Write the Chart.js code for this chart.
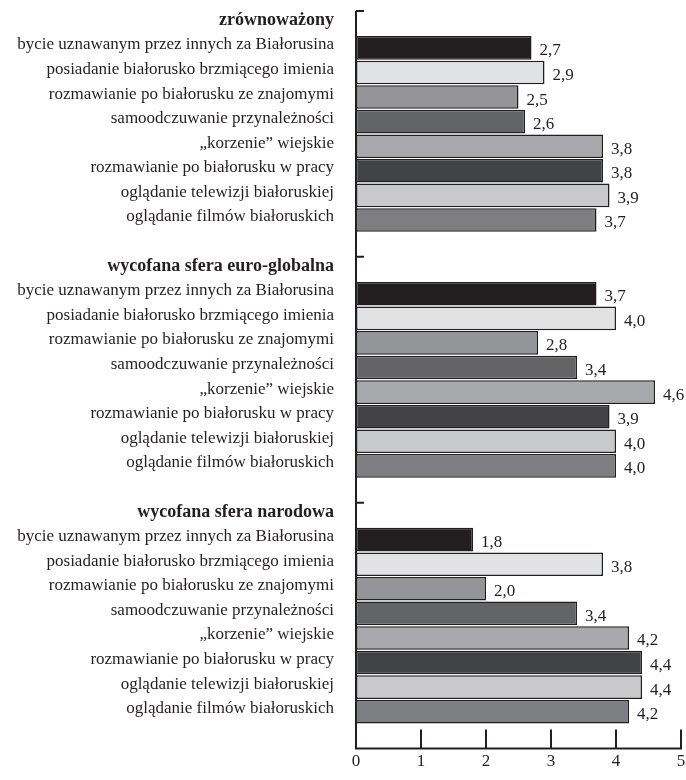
<!DOCTYPE html>
<html>
<head>
<meta charset="utf-8">
<script src="https://cdn.jsdelivr.net/npm/chart.js@4.4.1/dist/chart.umd.min.js"></script>
<style>
  html, body { margin: 0; padding: 0; background: #fff; }
  #wrap { width: 686px; height: 780px; position: relative; }
</style>
</head>
<body>
<div id="wrap"><canvas id="graphique"></canvas></div>
<script>
// grupy i kategorie
var groups = ['zrównoważony', 'wycofana sfera euro-globalna', 'wycofana sfera narodowa'];
var categories = [
  'bycie uznawanym przez innych za Białorusina',
  'posiadanie białorusko brzmiącego imienia',
  'rozmawianie po białorusku ze znajomymi',
  'samoodczuwanie przynależności',
  '„korzenie” wiejskie',
  'rozmawianie po białorusku w pracy',
  'oglądanie telewizji białoruskiej',
  'oglądanie filmów białoruskich'
];
var zrownowazony = [2.7, 2.9, 2.5, 2.6, 3.8, 3.8, 3.9, 3.7];
var euroGlobalna = [3.7, 4.0, 2.8, 3.4, 4.6, 3.9, 4.0, 4.0];
var narodowa     = [1.8, 3.8, 2.0, 3.4, 4.2, 4.4, 4.4, 4.2];
var xTicks = [0, 1, 2, 3, 4, 5];

var barColors = ['#231f20', '#e1e2e4', '#939598', '#636466', '#a7a9ac', '#414244', '#c8c9cb', '#7d7e81'];
var FONT = "'Liberation Serif', 'Times New Roman', serif";
var INK = '#231f20';

// wiersze: naglowek, 8 kategorii, pusty wiersz
var labels = [], values = [], colors = [], isHeader = [];
var series = [zrownowazony, euroGlobalna, narodowa];
for (var g = 0; g < groups.length; g++) {
  labels.push(groups[g]); values.push(null); colors.push('#fff'); isHeader.push(true);
  for (var i = 0; i < categories.length; i++) {
    labels.push(categories[i]); values.push(series[g][i]); colors.push(barColors[i]); isHeader.push(false);
  }
  labels.push(''); values.push(null); colors.push('#fff'); isHeader.push(false);
}

// osie: kreski do srodka + etykiety wartosci
var axisPlugin = {
  id: 'axisMarks',
  afterDraw: function(chart) {
    var c = chart.ctx, a = chart.chartArea;
    var x = chart.scales.x, y = chart.scales.y;
    c.save();
    c.strokeStyle = INK;
    c.lineWidth = 2;
    c.beginPath();
    c.moveTo(a.left, a.top); c.lineTo(a.left, a.bottom);
    c.moveTo(a.left - 1, a.bottom); c.lineTo(a.right + 1, a.bottom);
    // kreski grup
    var step = y.getPixelForValue(1) - y.getPixelForValue(0);
    for (var k = 0; k < labels.length; k++) {
      if (isHeader[k]) {
        var py = y.getPixelForValue(k) - step / 2;
        c.moveTo(a.left, py); c.lineTo(a.left + 8, py);
      }
    }
    // kreski osi x
    x.ticks.forEach(function(t) {
      var px = x.getPixelForValue(t.value);
      c.moveTo(px, a.bottom); c.lineTo(px, a.bottom - 19);
    });
    c.stroke();

    c.fillStyle = INK;
    c.font = '17px ' + FONT;
    c.textBaseline = 'middle';
    c.textAlign = 'left';
    chart.getDatasetMeta(0).data.forEach(function(bar, idx) {
      var v = values[idx];
      if (v === null) return;
      c.fillText(v.toFixed(1).replace('.', ','), bar.x + 8, bar.y + 3);
    });
    c.restore();
  }
};

var ctx = document.getElementById('graphique');
var myChart = new Chart(ctx, {
  type: 'bar',
  data: {
    labels: labels,
    datasets: [{
      data: values,
      backgroundColor: colors,
      borderColor: INK,
      borderWidth: 1.5,
      borderSkipped: false,
      categoryPercentage: 1,
      barPercentage: 0.96
    }]
  },
  options: {
    indexAxis: 'y',
    responsive: true,
    maintainAspectRatio: false,
    animation: false,
    layout: { padding: { top: 11, right: 5, left: 0, bottom: 5 } },
    plugins: { legend: { display: false }, tooltip: { enabled: false } },
    scales: {
      x: {
        min: 0, max: 5,
        afterBuildTicks: function(s) { s.ticks = xTicks.map(function(v) { return { value: v }; }); },
        afterFit: function(s) { s.paddingLeft = 0; s.paddingRight = 0; },
        grid: { display: false, drawTicks: false },
        border: { display: false },
        ticks: { color: INK, padding: 3, font: { family: FONT, size: 17 } }
      },
      y: {
        grid: { display: false, drawTicks: false, offset: true },
        border: { display: false },
        afterFit: function(s) { s.width = 356; s.paddingTop = 0; s.paddingBottom = 0; },
        ticks: {
          autoSkip: false,
          color: INK,
          padding: 22,
          labelOffset: -3,
          font: function(c) {
            return { family: FONT, size: isHeader[c.index] ? 18 : 17, weight: isHeader[c.index] ? 'bold' : 'normal' };
          }
        }
      }
    }
  },
  plugins: [axisPlugin]
});
</script>
</body>
</html>
